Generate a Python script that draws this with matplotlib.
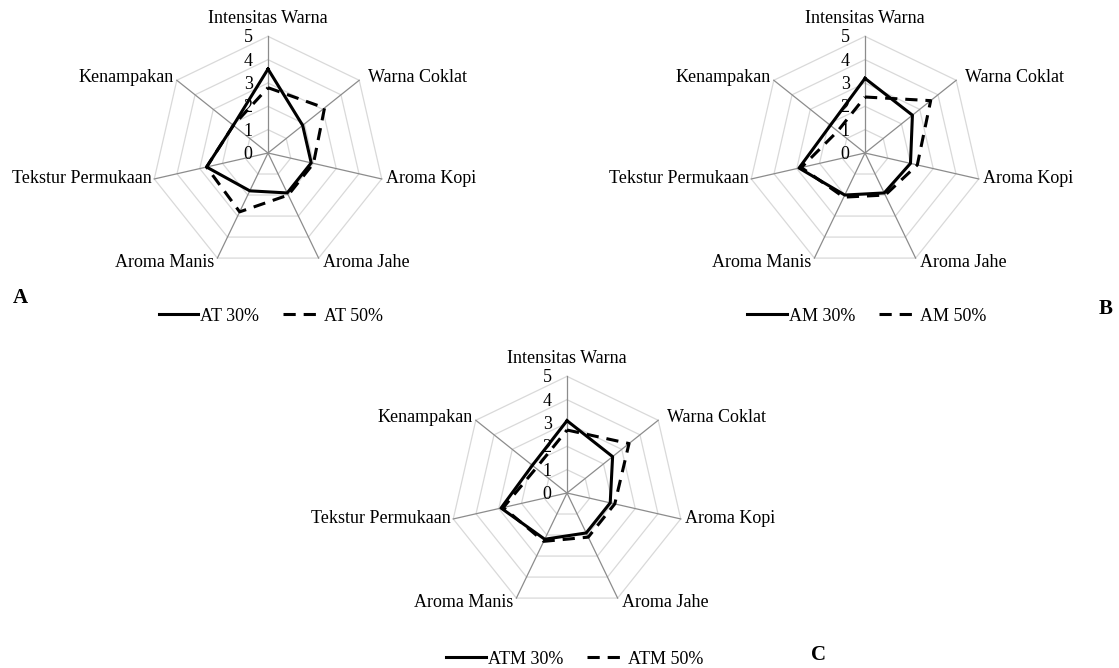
import matplotlib
matplotlib.use('Agg')
import matplotlib.pyplot as plt
import numpy as np

plt.rcParams['font.family'] = ['Liberation Serif', 'DejaVu Serif']

# urutan atribut sensori (searah jarum jam dari atas)
atribut = ['Intensitas Warna', 'Warna Coklat', 'Aroma Kopi', 'Aroma Jahe',
           'Aroma Manis', 'Tekstur Permukaan', 'Kenampakan']
skala = [0, 1, 2, 3, 4, 5]

at_30 = [3.6, 1.9, 1.9, 1.9, 1.8, 2.7, 1.9]
at_50 = [2.8, 3.1, 2.0, 2.0, 2.8, 2.7, 1.9]
am_30 = [3.2, 2.6, 2.0, 1.9, 2.0, 2.9, 1.9]
am_50 = [2.4, 3.6, 2.3, 2.0, 2.1, 2.8, 1.5]
atm_30 = [3.1, 2.5, 1.9, 1.9, 2.2, 2.9, 1.9]
atm_50 = [2.7, 3.4, 2.1, 2.1, 2.3, 2.8, 1.7]

W, H = 1119, 668
fig = plt.figure(figsize=(W / 100, H / 100), dpi=100)

n = len(atribut)
sudut = np.arange(n) * 2 * np.pi / n
px_per_unit = 23.33
half = 150  # setengah ukuran axes dalam piksel

# posisi label atribut: (ha, va, offset titik)
label_pos = [('center', 'bottom', (0, 7)),
             ('left', 'center', (6, 2)),
             ('left', 'center', (3, 0)),
             ('left', 'center', (3, -3)),
             ('right', 'center', (-2, -3)),
             ('right', 'center', (-2, 0)),
             ('right', 'center', (-2, 2))]


def xy(vals):
    v = np.array(list(vals) + [vals[0]])
    a = np.append(sudut, sudut[0])
    return v * np.sin(a), v * np.cos(a)


def radar(cx, cy, seri1, seri2, nama1, nama2, leg_xy):
    ax = fig.add_axes([(cx - half) / W, (H - cy - half) / H, 2 * half / W, 2 * half / H])
    lim = half / px_per_unit
    ax.set_xlim(-lim, lim)
    ax.set_ylim(-lim, lim)
    ax.axis('off')
    # grid segi tujuh
    for lv in skala[1:]:
        gx, gy = xy([lv] * n)
        ax.plot(gx, gy, color='#d9d9d9', lw=0.9, zorder=1)
    for a in sudut:
        ax.plot([0, 5 * np.sin(a)], [0, 5 * np.cos(a)], color='#8c8c8c', lw=0.9, zorder=1)
    for lv in skala:
        ax.annotate(str(lv), (0, lv), xytext=(-11, -1), textcoords='offset points',
                    ha='right', va='center', fontsize=13, zorder=2)
    for i, nm in enumerate(atribut):
        ha, va, off = label_pos[i]
        ax.annotate(nm, (5 * np.sin(sudut[i]), 5 * np.cos(sudut[i])), xytext=off,
                    textcoords='offset points', ha=ha, va=va, fontsize=13)
    x1, y1 = xy(seri1)
    x2, y2 = xy(seri2)
    l1, = ax.plot(x1, y1, color='black', lw=2.2, zorder=3, label=nama1)
    l2, = ax.plot(x2, y2, color='black', lw=2.2, ls=(0, (4, 2.6)), zorder=3, label=nama2)
    ax.legend(handles=[l1, l2], ncol=2, loc='center',
              bbox_to_anchor=(leg_xy[0] / W, 1 - leg_xy[1] / H), bbox_transform=fig.transFigure,
              frameon=False, fontsize=13, handlelength=2.2, handletextpad=0.1,
              columnspacing=1.3, borderpad=0)


radar(268, 153, at_30, at_50, 'AT 30%', 'AT 50%', (271, 316))
radar(865, 153, am_30, am_50, 'AM 30%', 'AM 50%', (867, 316))
radar(567, 493, atm_30, atm_50, 'ATM 30%', 'ATM 50%', (575, 659))

fig.text(20 / W, 1 - 298 / H, 'A', fontsize=15, fontweight='bold', ha='center', va='center')
fig.text(1106 / W, 1 - 309 / H, 'B', fontsize=15, fontweight='bold', ha='center', va='center')
fig.text(818 / W, 1 - 655 / H, 'C', fontsize=15, fontweight='bold', ha='center', va='center')

fig.savefig('out.png', dpi=100)
